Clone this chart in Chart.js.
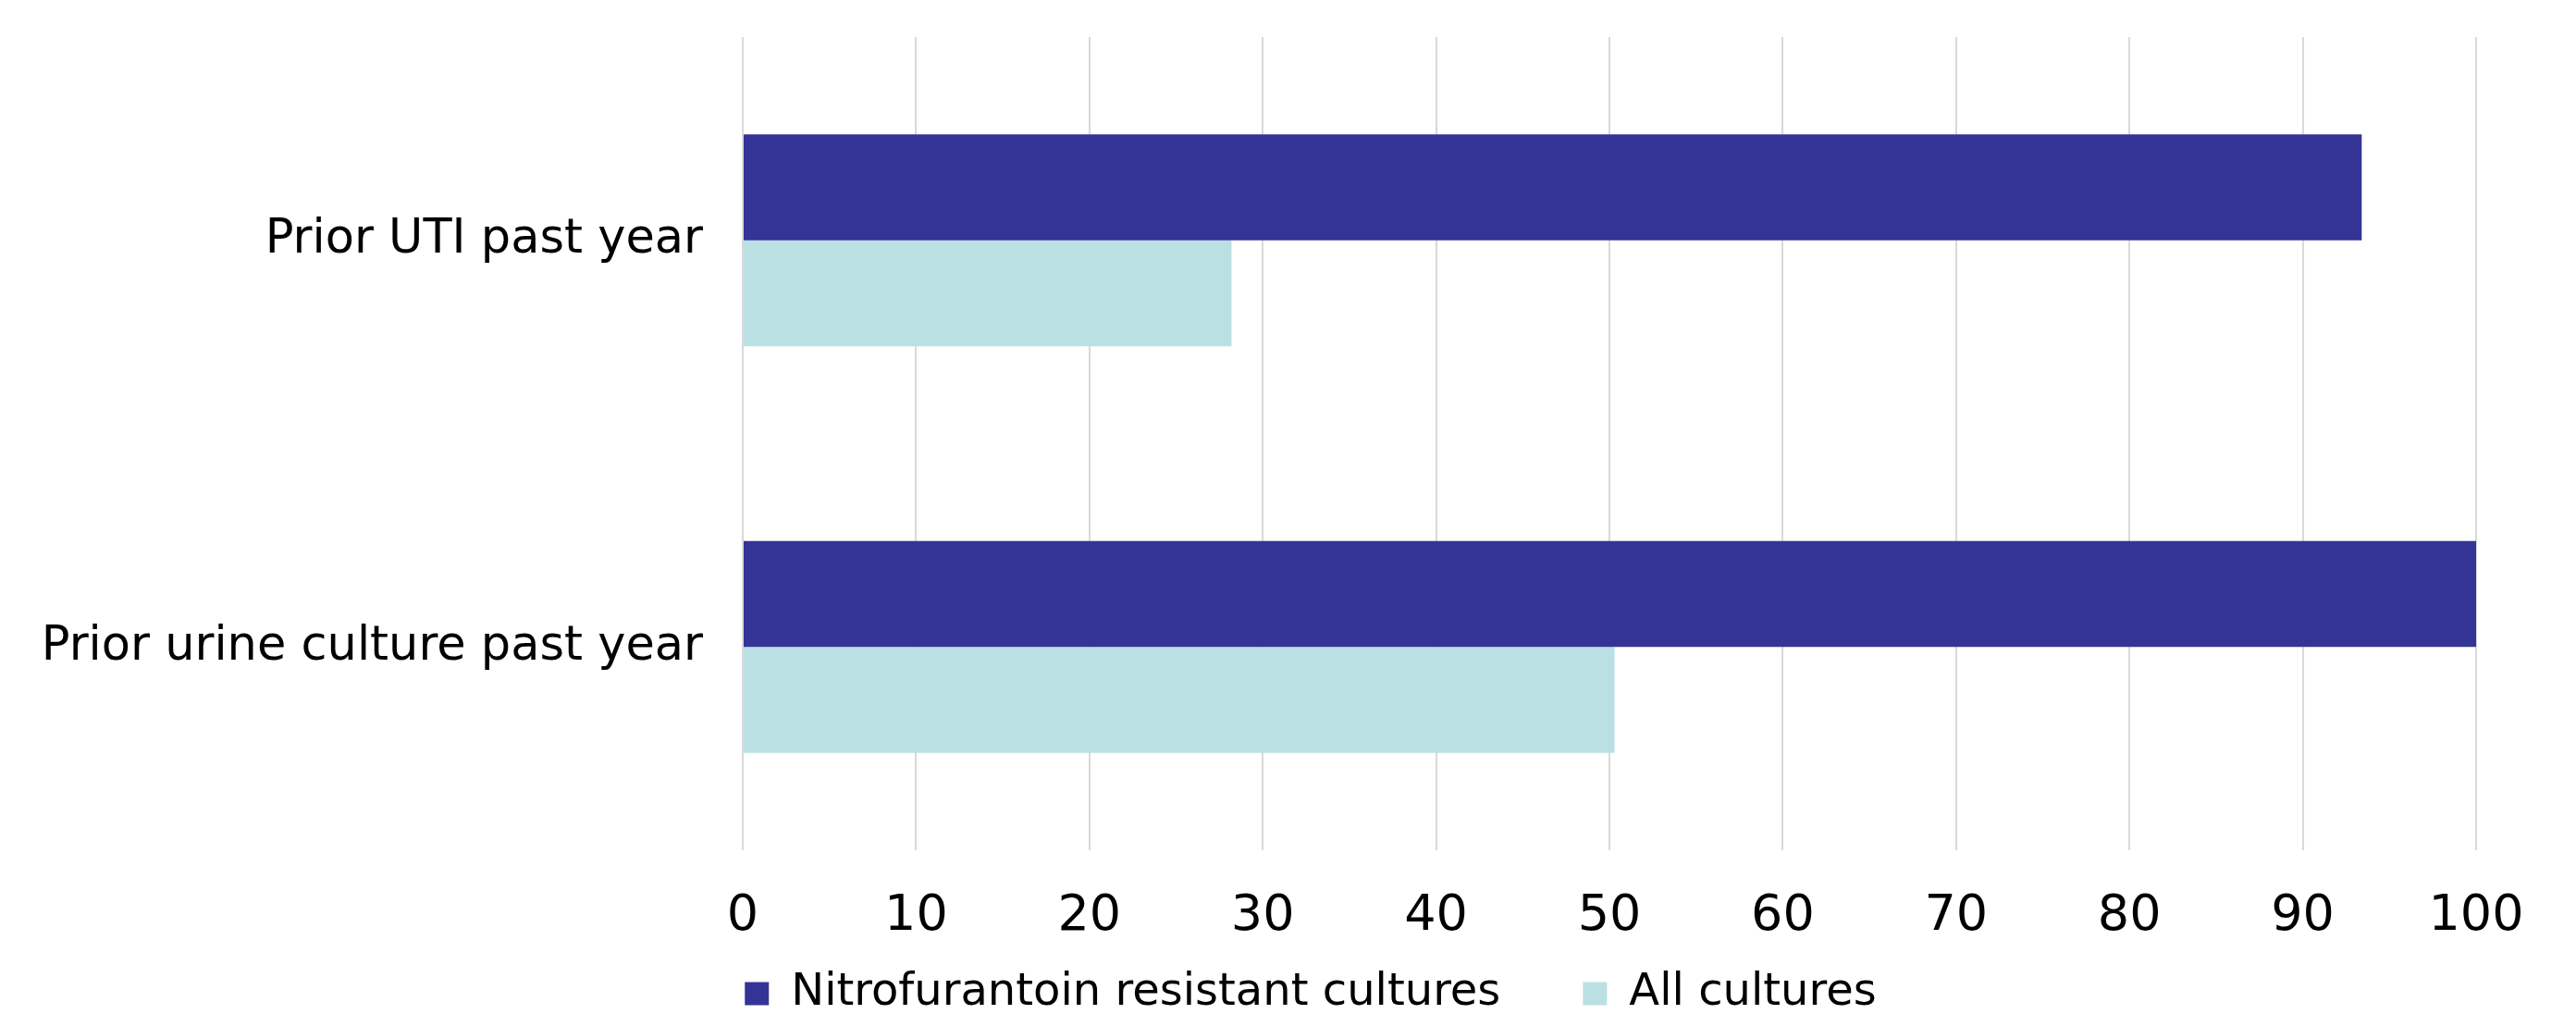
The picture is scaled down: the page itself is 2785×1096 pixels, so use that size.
<!DOCTYPE html>
<html>
<head>
<meta charset="utf-8">
<script src="https://cdn.jsdelivr.net/npm/chart.js@4/dist/chart.umd.min.js"></script>
<style>
  html, body { margin: 0; padding: 0; background: #ffffff; }
  #wrap { width: 2785px; height: 1096px; position: relative; }
</style>
</head>
<body>
<div id="wrap"><canvas id="chart" width="2785" height="1096"></canvas></div>
<script>
// Categories and series (percent)
const categories = ['Prior UTI past year', 'Prior urine culture past year'];
const resistantValues = [93.4, 100];
const allCultureValues = [28.2, 50.3];
const seriesNames = ['Nitrofurantoin resistant cultures', 'All cultures'];
const xTickMin = 0;
const xTickMax = 100;
const xTickStep = 10;

const FONT = '"DejaVu Sans", Verdana, sans-serif';
const LEGEND_BOX_HEIGHT = 77;

// Keeps the legend compact and sets the row under the axis numbers
const legendPlacement = {
  id: 'legendPlacement',
  beforeLayout(chart) {
    const lg = chart.legend;
    if (!lg || lg._compactFit) return;
    const baseFit = lg.fit;
    lg.fit = function () {
      baseFit.call(this);
      this.height = LEGEND_BOX_HEIGHT;
    };
    lg._compactFit = true;
  },
  afterLayout(chart) {
    const lg = chart.legend;
    if (!lg) return;
    lg.left = 0;
    lg.right = 2834;
    lg.width = 2834;
    lg.top = 961;
    lg.bottom = chart.height;
    lg.height = chart.height - 961;
  }
};

function noEdgePadding(scale) {
  scale.paddingTop = 0;
  scale.paddingBottom = 0;
  scale.paddingLeft = 0;
  scale.paddingRight = 0;
}

new Chart(document.getElementById('chart'), {
  type: 'bar',
  data: {
    labels: categories,
    datasets: [
      {
        label: seriesNames[0],
        data: resistantValues,
        backgroundColor: '#343497',
        borderWidth: 0,
        categoryPercentage: 0.521,
        barPercentage: 1.0
      },
      {
        label: seriesNames[1],
        data: allCultureValues,
        backgroundColor: '#bbe0e3',
        borderWidth: 0,
        categoryPercentage: 0.521,
        barPercentage: 1.0
      }
    ]
  },
  options: {
    indexAxis: 'y',
    responsive: false,
    animation: false,
    layout: { padding: { top: 40, right: 108, bottom: 0, left: 0 } },
    scales: {
      x: {
        min: xTickMin,
        max: xTickMax,
        afterFit(scale) { scale.height = 100; noEdgePadding(scale); },
        grid: { color: '#d9d9d9', lineWidth: 2, drawTicks: false },
        border: { display: false },
        ticks: {
          stepSize: xTickStep,
          autoSkip: false,
          color: '#000000',
          font: { family: FONT, size: 54 },
          padding: 40,
          maxRotation: 0
        }
      },
      y: {
        afterFit(scale) { scale.width = 803; noEdgePadding(scale); },
        grid: { display: false, drawTicks: false },
        border: { display: false },
        ticks: {
          color: '#000000',
          font: { family: FONT, size: 51 },
          padding: 43
        }
      }
    },
    plugins: {
      legend: {
        position: 'bottom',
        labels: {
          color: '#000000',
          font: { family: FONT, size: 48 },
          boxWidth: 26,
          boxHeight: 25,
          padding: 89
        }
      },
      tooltip: { enabled: false }
    }
  },
  plugins: [legendPlacement]
});
</script>
</body>
</html>
